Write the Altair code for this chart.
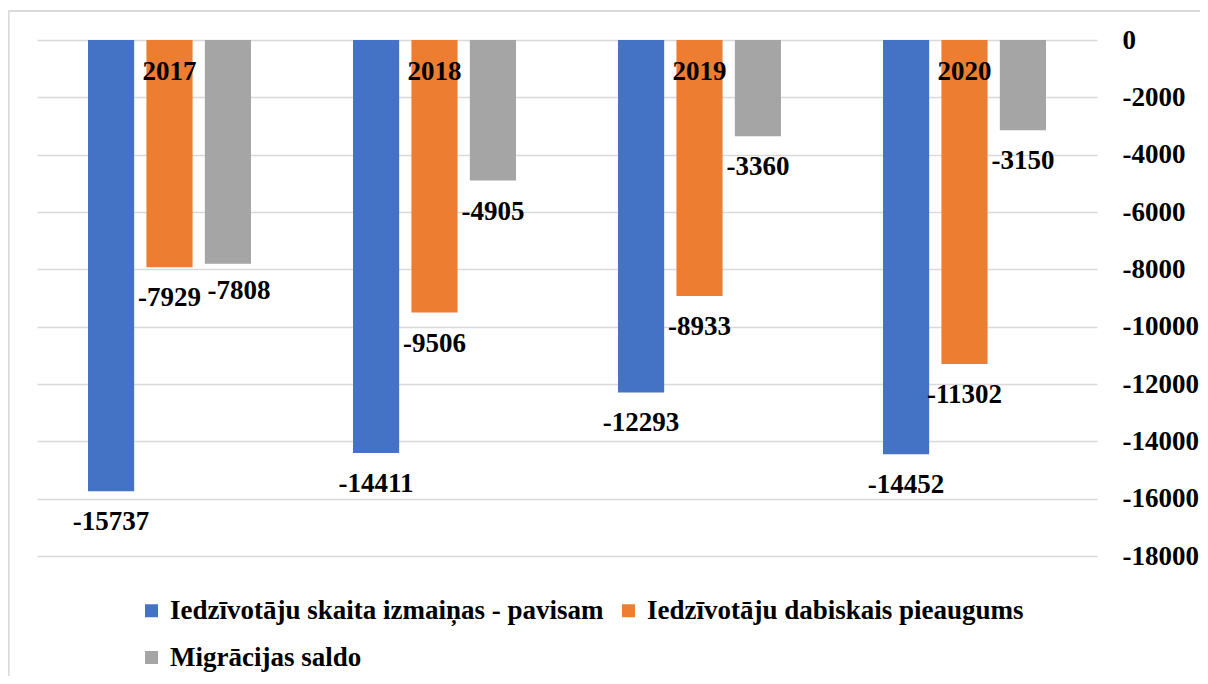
import altair as alt
import pandas as pd

years = ["2017", "2018", "2019", "2020"]
series = [
    "Iedzīvotāju skaita izmaiņas - pavisam",
    "Iedzīvotāju dabiskais pieaugums",
    "Migrācijas saldo",
]
total_change = [-15737, -14411, -12293, -14452]
natural_growth = [-7929, -9506, -8933, -11302]
migration = [-7808, -4905, -3360, -3150]
colors = ["#4472C4", "#ED7D31", "#A5A5A5"]
y_ticks = [0, -2000, -4000, -6000, -8000, -10000, -12000, -14000, -16000, -18000]

rows = []
for s, vals in zip(series, [total_change, natural_growth, migration]):
    for yr, v in zip(years, vals):
        rows.append({"year": yr, "series": s, "value": v, "label": str(v)})
df = pd.DataFrame(rows)
year_df = pd.DataFrame({"year": years})

FONT = "Liberation Serif"
FS = 27

x_enc = alt.X("year:N", sort=years, axis=None,
              scale=alt.Scale(paddingInner=0.385, paddingOuter=0.1925))
xo_enc = alt.XOffset("series:N", sort=series,
                     scale=alt.Scale(paddingInner=0.21, paddingOuter=0))
y_enc = alt.Y("value:Q",
              scale=alt.Scale(domain=[-18000, 0], nice=False),
              axis=alt.Axis(orient="right", values=y_ticks, title=None,
                            labelExpr="'' + datum.value",
                            labelFont=FONT, labelFontSize=FS, labelFontWeight="bold",
                            labelColor="black", labelPadding=25, domain=False, ticks=False,
                            gridColor="#d9d9d9", gridWidth=1.5))

border = alt.Chart(year_df).mark_rect(fill=None, stroke="#d9d9d9", strokeWidth=1.5).encode(
    x=alt.value(-28.5), x2=alt.value(1200), y=alt.value(-29), y2=alt.value(720)
)

bars = alt.Chart(df).mark_bar().encode(
    x=x_enc,
    xOffset=xo_enc,
    y=y_enc,
    color=alt.Color("series:N", sort=series,
                    scale=alt.Scale(domain=series, range=colors),
                    legend=alt.Legend(title=None, orient="none", legendX=101, legendY=557,
                                      direction="horizontal", columns=2,
                                      symbolType="square", symbolSize=169,
                                      symbolStrokeWidth=0,
                                      labelFont=FONT, labelFontSize=FS, labelFontWeight="bold",
                                      labelColor="black", labelOffset=5, labelLimit=0,
                                      rowPadding=19, columnPadding=11)),
)

label_style = dict(font=FONT, fontSize=FS, fontWeight="bold", color="black", baseline="middle")

labels = alt.Chart(df).mark_text(dy=31, **label_style).encode(
    x=x_enc,
    xOffset=xo_enc,
    y=alt.Y("value:Q"),
    text="label:N",
).transform_filter("datum.value != -7808")

labels_shift = alt.Chart(df).mark_text(dy=27, dx=11, **label_style).encode(
    x=x_enc,
    xOffset=xo_enc,
    y=alt.Y("value:Q"),
    text="label:N",
).transform_filter("datum.value == -7808")

year_labels = alt.Chart(year_df).mark_text(dy=32, **label_style).encode(
    x=alt.X("year:N", sort=years),
    y=alt.datum(0),
    text="year:N",
)

chart = alt.layer(border, bars, labels, labels_shift, year_labels).properties(
    width=1060, height=516,
    autosize=alt.AutoSizeParams(type="none"),
    padding={"left": 29, "top": 32, "right": 103, "bottom": 120},
    background="white",
).configure_view(stroke=None, strokeWidth=0)

chart.save("out.html", embed_options={"renderer": "svg", "actions": False})
